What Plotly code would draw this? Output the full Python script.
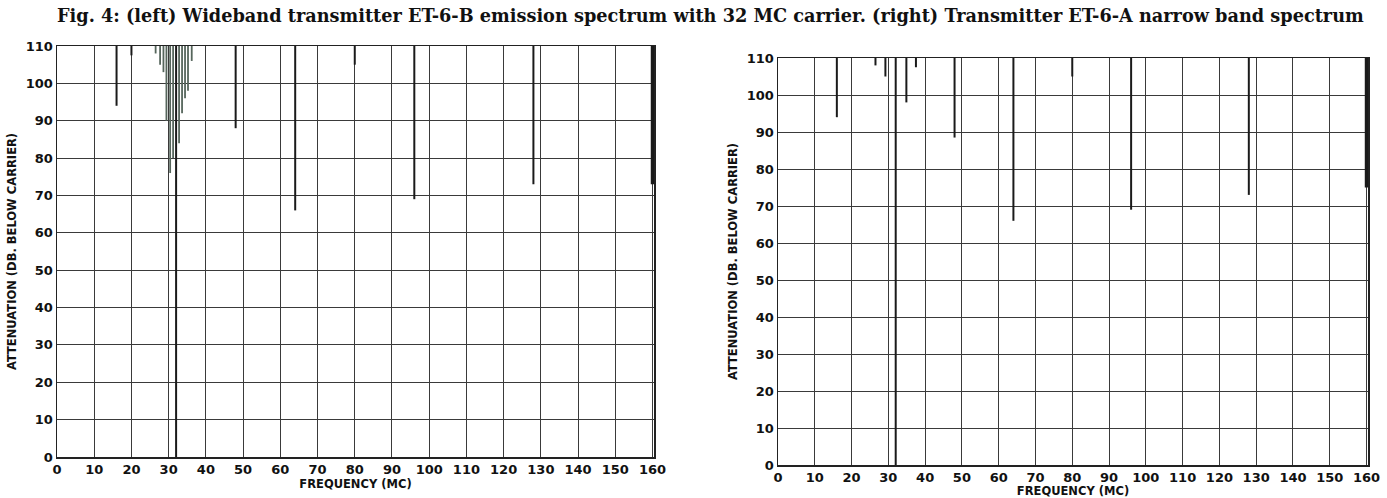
import plotly.graph_objects as go

# ---- data ----
x_ticks = list(range(0, 161, 10))
y_ticks = list(range(0, 111, 10))
TOP = 110

# left: wideband transmitter ET-6-B
freq_left = [16, 20, 26.5, 27.7, 28.6, 29.4, 30.4, 31.2, 32, 32.8, 33.6, 34.4, 35.2, 36.2,
             48, 64, 80, 96, 128, 160]
att_left = [94, 107.5, 108, 105, 103, 90, 76, 80, 0, 84, 92, 96, 98, 106,
            88, 66, 105, 69, 73, 73]

# right: narrow band transmitter ET-6-A
freq_right = [16, 26.5, 29.2, 32, 34.9, 37.5, 48, 64, 80, 96, 128, 160]
att_right = [94, 108, 105, 0, 98, 107.5, 88.5, 66, 105, 69, 73, 75]

title_text = ("Fig. 4: (left) Wideband transmitter ET-6-B emission spectrum with "
              "32 MC carrier. (right) Transmitter ET-6-A narrow band spectrum")

fig = go.Figure()

def add_lines(freqs, atts, xa, ya, cluster=False):
    for f, a in zip(freqs, atts):
        if cluster and 26 <= f <= 37 and a > 0:
            color, w = "#56665c", 1.8
        else:
            color, w = "#1a1a1a", 2
        if f >= 160:
            w = 3.5
        fig.add_trace(go.Scatter(x=[f, f], y=[TOP, a], mode="lines",
                                 line=dict(color=color, width=w),
                                 xaxis=xa, yaxis=ya, showlegend=False,
                                 hoverinfo="skip"))

add_lines(freq_left, att_left, "x", "y", cluster=True)
add_lines(freq_right, att_right, "x2", "y2")

W, H = 1387, 498
tickfont = dict(family="DejaVu Sans", size=13, color="#111", weight="bold")
titlefont = dict(family="DejaVu Sans", size=11.5, color="#111", weight="bold")
axis_common = dict(
    showgrid=True, gridcolor="#3a3a3a", gridwidth=1,
    showline=True, linecolor="#222", linewidth=1.5, mirror=True,
    zeroline=False, ticks="", tickfont=tickfont, automargin=False,
)

fig.update_layout(
    width=W, height=H,
    margin=dict(l=0, r=0, t=0, b=0, autoexpand=False),
    paper_bgcolor="white", plot_bgcolor="white",
    hovermode=False,
    xaxis=dict(domain=[57 / W, 654 / W], anchor="y", range=[0, 160.4],
               tickvals=x_ticks, ticktext=[str(v) for v in x_ticks],
               title=dict(text="FREQUENCY (MC)", standoff=0, font=titlefont),
               **axis_common),
    yaxis=dict(domain=[1 - 457 / H, 1 - 46 / H], anchor="x", range=[0, 110],
               tickvals=y_ticks, ticktext=[str(v) for v in y_ticks],
               title=dict(text="ATTENUATION (DB. BELOW CARRIER)", standoff=6, font=titlefont),
               **axis_common),
    xaxis2=dict(domain=[778 / W, 1368 / W], anchor="y2", range=[0, 160.4],
                tickvals=x_ticks, ticktext=[str(v) for v in x_ticks],
                title=dict(text="FREQUENCY (MC)", standoff=0, font=titlefont),
                **axis_common),
    yaxis2=dict(domain=[1 - 465 / H, 1 - 58 / H], anchor="x2", range=[0, 110],
                tickvals=y_ticks, ticktext=[str(v) for v in y_ticks],
                title=dict(text="ATTENUATION (DB. BELOW CARRIER)", standoff=6, font=titlefont),
                **axis_common),
)

fig.add_annotation(text=title_text, xref="paper", yref="paper",
                   x=55 / W, y=1 - 3 / H, xanchor="left", yanchor="top",
                   showarrow=False,
                   font=dict(family="DejaVu Serif", size=17.7, color="#111", weight="bold"))

fig.write_html("out.html",
               config={"displayModeBar": False, "staticPlot": True},
               post_script="document.body.style.margin='0';document.body.style.overflow='hidden';")
